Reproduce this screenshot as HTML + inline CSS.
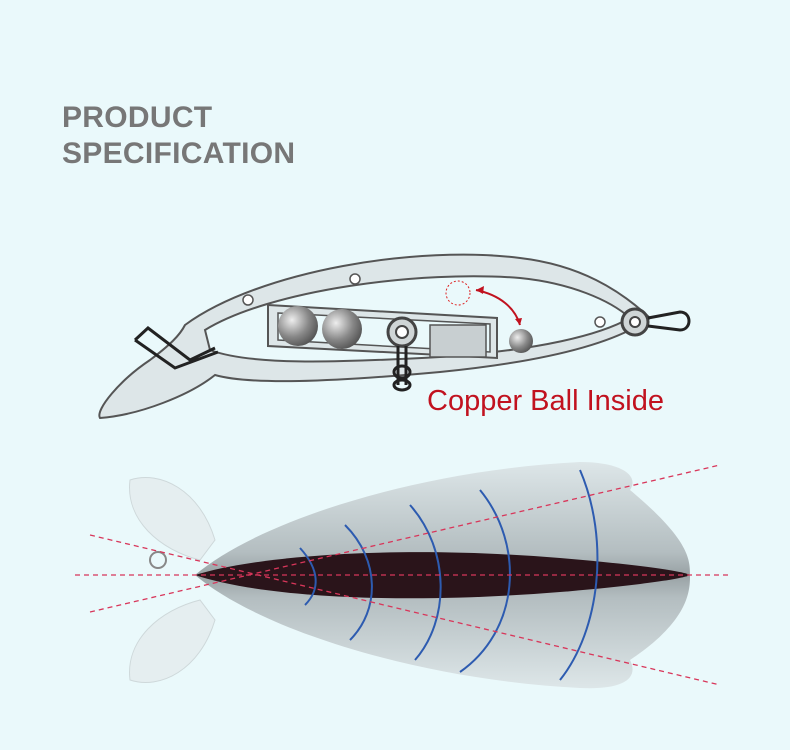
<!DOCTYPE html>
<html><head><meta charset="utf-8"><style>
html,body{margin:0;padding:0;background:#eaf9fb;}
body{width:790px;height:750px;overflow:hidden;position:relative;font-family:"Liberation Sans",sans-serif;}
.t{position:absolute;left:62px;color:#777;font-weight:bold;font-size:30px;letter-spacing:0.3px;}
</style></head><body>
<div class="t" style="top:101px">PRODUCT</div>
<div class="t" style="top:137px">SPECIFICATION</div>
<svg width="790" height="750" style="position:absolute;left:0;top:0">
<defs>
<radialGradient id="b" cx="0.35" cy="0.35" r="0.7"><stop offset="0" stop-color="#eee"/><stop offset="0.6" stop-color="#888"/><stop offset="1" stop-color="#555"/></radialGradient>
<linearGradient id="fish" x1="0" y1="0" x2="0" y2="1"><stop offset="0" stop-color="#dbe3e5"/><stop offset="0.4" stop-color="#aab3b6"/><stop offset="0.5" stop-color="#8a9295"/><stop offset="0.6" stop-color="#aab3b6"/><stop offset="1" stop-color="#dbe3e5"/></linearGradient>
</defs>
<!-- upper lure -->
<path d="M185 325 C260 270 420 245 520 258 C580 265 620 290 650 318 C620 340 560 360 440 372 C330 382 250 385 215 375 C190 395 140 415 100 418 C95 410 120 380 150 360 C170 345 180 335 185 325 Z" fill="#dde6e8" stroke="#555" stroke-width="2"/>
<path d="M205 330 C270 290 420 270 520 278 C570 283 610 300 630 318 C600 335 540 350 440 357 C330 363 250 365 210 350 Z" fill="#eaf9fb" stroke="#555" stroke-width="2"/>
<path d="M268 305 L497 318 L497 358 L268 346 Z" fill="#dde6e8" stroke="#555" stroke-width="2"/>
<path d="M278 313 L490 324 L490 352 L278 340 Z" fill="#eaf9fb" stroke="#555" stroke-width="1.5"/>
<rect x="430" y="325" width="56" height="32" fill="#c8cfd1" stroke="#555" stroke-width="1.5"/>
<circle cx="298" cy="326" r="20" fill="url(#b)"/>
<circle cx="342" cy="329" r="20" fill="url(#b)"/>
<circle cx="402" cy="332" r="14" fill="#cfd5d6" stroke="#444" stroke-width="3"/>
<circle cx="402" cy="332" r="6" fill="#fff" stroke="#444" stroke-width="2"/>
<path d="M398 346 L398 385 M406 346 L406 385" stroke="#222" stroke-width="3"/>
<ellipse cx="402" cy="372" rx="8" ry="6" fill="none" stroke="#222" stroke-width="3"/>
<ellipse cx="402" cy="385" rx="8" ry="5" fill="none" stroke="#222" stroke-width="3"/>
<circle cx="635" cy="322" r="13" fill="#cfd5d6" stroke="#444" stroke-width="3"/>
<circle cx="635" cy="322" r="5" fill="#fff" stroke="#444" stroke-width="2"/>
<path d="M648 318 L680 312 C692 312 692 330 680 330 L648 326" fill="none" stroke="#222" stroke-width="3"/>
<path d="M135 340 L148 328 L190 360 L215 348 M135 340 L175 368 L218 352" fill="none" stroke="#222" stroke-width="3"/>
<circle cx="248" cy="300" r="5" fill="#fff" stroke="#555" stroke-width="1.5"/>
<circle cx="355" cy="279" r="5" fill="#fff" stroke="#555" stroke-width="1.5"/>
<circle cx="600" cy="322" r="5" fill="#fff" stroke="#555" stroke-width="1.5"/>
<circle cx="458" cy="293" r="12" fill="none" stroke="#d22" stroke-width="1" stroke-dasharray="2,2"/>
<circle cx="521" cy="341" r="12" fill="url(#b)"/>
<path d="M476 290 C500 295 515 308 520 325" fill="none" stroke="#c1121f" stroke-width="2"/>
<path d="M476 290 l8 -4 l-1 8 Z M520 325 l-5 -6 l7 -1 Z" fill="#c1121f"/>
<text x="427" y="410" font-size="29" fill="#c1121f" font-family="Liberation Sans,sans-serif">Copper Ball Inside</text>
<!-- lower lure -->
<path d="M130 480 C160 470 200 490 215 540 L200 560 C160 550 125 520 130 480 Z" fill="#e4ecee" stroke="#c8d0d2" opacity="0.8"/>
<path d="M130 680 C160 690 200 670 215 620 L200 600 C160 610 125 640 130 680 Z" fill="#e4ecee" stroke="#c8d0d2" opacity="0.8"/>
<path d="M195 575 C260 520 420 470 580 462 C620 462 640 475 630 490 C690 540 690 560 690 575 C690 590 690 620 630 660 C640 680 620 690 580 688 C420 680 260 630 195 575 Z" fill="url(#fish)" opacity="0.85"/>
<path d="M195 575 C260 555 400 545 560 558 C620 563 680 570 690 575 C680 580 620 587 560 592 C400 605 260 597 195 575 Z" fill="#2a141a"/>
<circle cx="158" cy="560" r="8" fill="none" stroke="#888" stroke-width="2"/>
<g fill="none" stroke="#2d5bb0" stroke-width="2">
<path d="M300 548 C320 570 320 590 305 605"/>
<path d="M345 525 C380 560 380 610 350 640"/>
<path d="M410 505 C450 550 450 620 415 660"/>
<path d="M480 490 C525 545 520 630 460 672"/>
<path d="M580 470 C610 540 600 630 560 680"/>
</g>
<g stroke="#d8365a" stroke-width="1.3" stroke-dasharray="5,4">
<line x1="90" y1="535" x2="720" y2="685"/>
<line x1="90" y1="612" x2="720" y2="465"/>
<line x1="75" y1="575" x2="730" y2="575"/>
</g>
</svg>
</body></html>
